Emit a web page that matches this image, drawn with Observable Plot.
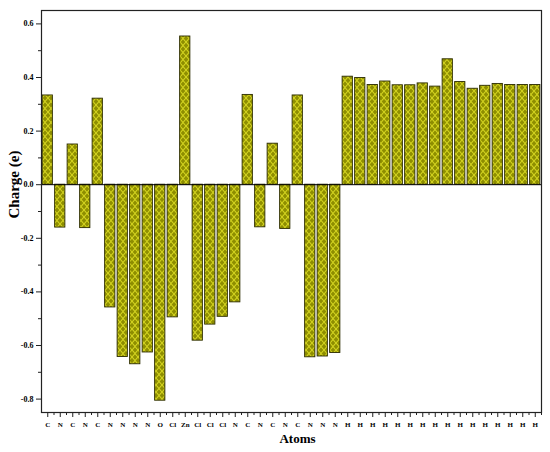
<!DOCTYPE html>
<html>
<head>
<meta charset="utf-8">
<script src="https://cdn.jsdelivr.net/npm/d3@7"></script>
<script src="https://cdn.jsdelivr.net/npm/@observablehq/plot@0.6"></script>
<style>
  html, body { margin: 0; padding: 0; background: #fff; }
</style>
</head>
<body>
<div id="chart"></div>
<script>
const atoms = ["C","N","C","N","C","N","N","N","N","O","Cl","Zn","Cl","Cl","Cl","N","C","N","C","N","C","N","N","N",
  "H","H","H","H","H","H","H","H","H","H","H","H","H","H","H","H"];
const charges = [0.333,-0.160,0.150,-0.162,0.321,-0.458,-0.643,-0.670,-0.626,-0.806,-0.495,0.553,-0.582,-0.522,-0.493,-0.439,0.335,-0.159,0.153,-0.165,0.333,-0.644,-0.641,-0.628,
  0.403,0.398,0.372,0.385,0.371,0.371,0.378,0.366,0.468,0.383,0.358,0.369,0.376,0.372,0.372,0.372];
const yMajor = [-0.8,-0.6,-0.4,-0.2,0,0.2,0.4,0.6];
const yMinor = [-0.7,-0.5,-0.3,-0.1,0.1,0.3,0.5];

const data = atoms.map((a, i) => ({i, atom: a, v: charges[i]}));
const idx = data.map(d => d.i);
const font = "'Liberation Serif', 'Times New Roman', serif";

const svg = Plot.plot({
  width: 550,
  height: 452,
  marginLeft: 41,
  marginRight: 9,
  marginTop: 10,
  marginBottom: 40,
  style: {fontFamily: font, background: "#fff", color: "#000"},
  x: {type: "band", domain: idx, paddingInner: 0.18, paddingOuter: 0.09, round: false},
  y: {domain: [-0.85, 0.65]},
  marks: [
    Plot.barY(data, {x: "i", y: "v", fill: "url(#hatch)", stroke: "#2b2b00", strokeWidth: 0.9}),
    Plot.ruleY([0], {stroke: "#000", strokeWidth: 1}),
    Plot.frame({stroke: "#222", strokeWidth: 1.2}),
    Plot.axisX({tickSize: 5, tickPadding: 5, tickFormat: i => atoms[i], fontSize: 7, fontWeight: "bold", label: null, stroke: "#222"}),
    Plot.axisX({tickSize: 3, dx: 6.25, tickFormat: () => "", label: null, stroke: "#222"}),
    Plot.axisY({ticks: yMajor, tickSize: 5, tickPadding: 3, tickFormat: d => d.toFixed(1), fontSize: 8, fontWeight: "bold", label: null, stroke: "#222"}),
    Plot.axisY({ticks: yMinor, tickSize: 3, tickFormat: () => "", label: null, stroke: "#222"}),
    Plot.text(["Charge (e)"], {frameAnchor: "left", dx: -27, dy: 7, rotate: -90, text: d => d, fontSize: 15, fontWeight: "bold", fill: "#000"}),
    Plot.text(["Atoms"], {frameAnchor: "bottom", dx: 6, dy: 30, text: d => d, fontSize: 13, fontWeight: "bold", fill: "#000"})
  ]
});

const defs = d3.select(svg).insert("defs", ":first-child");
const pat = defs.append("pattern")
  .attr("id", "hatch")
  .attr("patternUnits", "userSpaceOnUse")
  .attr("width", 6)
  .attr("height", 7);
pat.append("rect").attr("width", 6).attr("height", 7).attr("fill", "#8e8e00");
pat.append("path").attr("d", "M0,0L6,7M6,0L0,7").attr("stroke", "#d4d420").attr("stroke-width", 1.1).attr("fill", "none");

document.getElementById("chart").appendChild(svg);
</script>
</body>
</html>
